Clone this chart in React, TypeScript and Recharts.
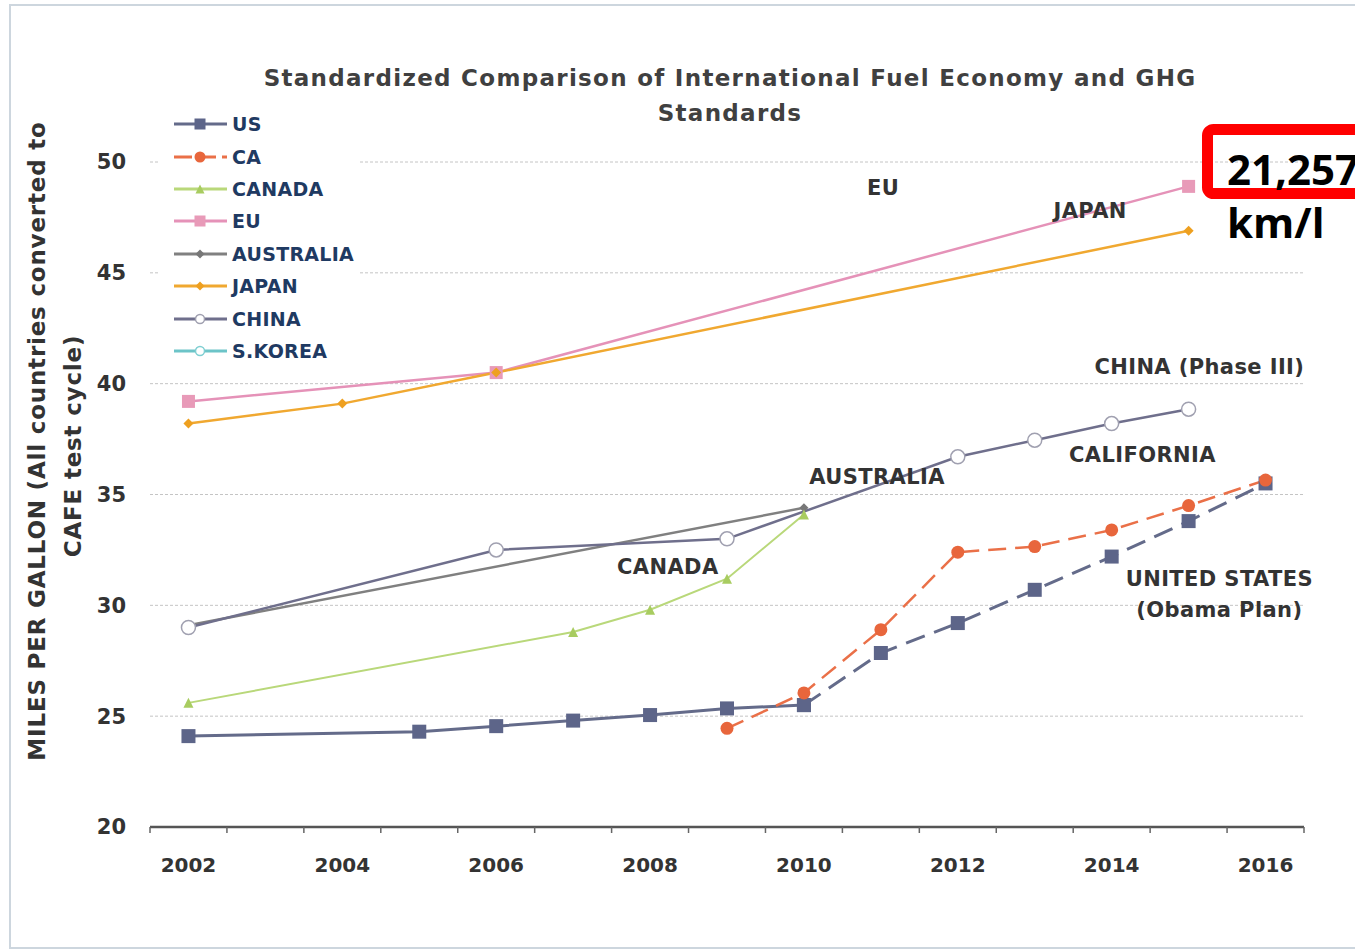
import React from 'react';
import { LineChart, Line, XAxis, YAxis, CartesianGrid, ReferenceDot, Legend } from 'recharts';

type Pt = { year: number; value: number };

const years = [2002, 2003, 2004, 2005, 2006, 2007, 2008, 2009, 2010, 2011, 2012, 2013, 2014, 2015, 2016];
const labelYears = [2002, 2004, 2006, 2008, 2010, 2012, 2014, 2016];
const yTicks = [20, 25, 30, 35, 40, 45, 50];

const usHistory: Pt[] = [
  { year: 2002, value: 24.1 }, { year: 2005, value: 24.3 }, { year: 2006, value: 24.55 },
  { year: 2007, value: 24.8 }, { year: 2008, value: 25.05 }, { year: 2009, value: 25.35 }, { year: 2010, value: 25.5 },
];
const usPlan: Pt[] = [
  { year: 2010, value: 25.5 }, { year: 2011, value: 27.85 }, { year: 2012, value: 29.2 }, { year: 2013, value: 30.7 },
  { year: 2014, value: 32.2 }, { year: 2015, value: 33.8 }, { year: 2016, value: 35.5 },
];
const california: Pt[] = [
  { year: 2009, value: 24.45 }, { year: 2010, value: 26.05 }, { year: 2011, value: 28.9 }, { year: 2012, value: 32.4 },
  { year: 2013, value: 32.65 }, { year: 2014, value: 33.4 }, { year: 2015, value: 34.5 }, { year: 2016, value: 35.65 },
];
const canada: Pt[] = [
  { year: 2002, value: 25.6 }, { year: 2007, value: 28.8 }, { year: 2008, value: 29.8 },
  { year: 2009, value: 31.2 }, { year: 2010, value: 34.1 },
];
const eu: Pt[] = [{ year: 2002, value: 39.2 }, { year: 2006, value: 40.5 }, { year: 2015, value: 48.9 }];
const australia: Pt[] = [{ year: 2002, value: 29.1 }, { year: 2010, value: 34.4 }];
const japan: Pt[] = [{ year: 2002, value: 38.2 }, { year: 2004, value: 39.1 }, { year: 2006, value: 40.5 }, { year: 2015, value: 46.9 }];
const china: Pt[] = [
  { year: 2002, value: 29.0 }, { year: 2006, value: 32.5 }, { year: 2009, value: 33.0 }, { year: 2012, value: 36.7 },
  { year: 2013, value: 37.45 }, { year: 2014, value: 38.2 }, { year: 2015, value: 38.85 },
];

const annotations = [
  { text: 'EU', year: 2011.03, value: 48.87 },
  { text: 'JAPAN', year: 2013.72, value: 47.83 },
  { text: 'CHINA (Phase III)', year: 2015.14, value: 40.75 },
  { text: 'CALIFORNIA', year: 2014.4, value: 36.8 },
  { text: 'AUSTRALIA', year: 2010.95, value: 35.83 },
  { text: 'CANADA', year: 2008.23, value: 31.77 },
  { text: 'UNITED STATES', year: 2015.4, value: 31.19 },
  { text: '(Obama Plan)', year: 2015.4, value: 29.79 },
];

const legendItems = [
  { name: 'US', color: '#646b8a', marker: 'square', markerColor: '#5d6589', dashed: false },
  { name: 'CA', color: '#ea7048', marker: 'circle', markerColor: '#e8663c', dashed: true },
  { name: 'CANADA', color: '#b9d87a', marker: 'triangle', markerColor: '#a8cc60', dashed: false },
  { name: 'EU', color: '#e592b8', marker: 'square', markerColor: '#e89ab8', dashed: false },
  { name: 'AUSTRALIA', color: '#808080', marker: 'diamond', markerColor: '#777777', dashed: false },
  { name: 'JAPAN', color: '#f0a830', marker: 'diamond', markerColor: '#eea020', dashed: false },
  { name: 'CHINA', color: '#6f6f8c', marker: 'hollow', markerColor: '#a0a0b0', dashed: false },
  { name: 'S.KOREA', color: '#6cc4c8', marker: 'hollow', markerColor: '#7fcfd2', dashed: false },
];

const FONT = '"DejaVu Sans", sans-serif';

const Marker = ({ kind, cx, cy, color, size }: any) => {
  if (cx == null || cy == null) return null;
  const s = size;
  switch (kind) {
    case 'square':
      return <rect x={cx - s / 2} y={cy - s / 2} width={s} height={s} fill={color} />;
    case 'circle':
      return <circle cx={cx} cy={cy} r={s / 2} fill={color} />;
    case 'hollow':
      return <circle cx={cx} cy={cy} r={s / 2} fill="#ffffff" stroke={color} strokeWidth={1.5} />;
    case 'triangle':
      return <polygon points={`${cx},${cy - s / 2} ${cx + s / 2},${cy + s / 2} ${cx - s / 2},${cy + s / 2}`} fill={color} />;
    case 'diamond':
      return <polygon points={`${cx},${cy - s / 2} ${cx + s / 2},${cy} ${cx},${cy + s / 2} ${cx - s / 2},${cy}`} fill={color} />;
    default:
      return null;
  }
};

const dotFn = (kind: string, color: string, size: number) => (props: any) => (
  <g key={`${kind}-${color}-${props.index}`}>
    <Marker kind={kind} cx={props.cx} cy={props.cy} color={color} size={size} />
  </g>
);

const XTick = (props: any) => {
  const { x, y, payload } = props;
  const v = payload.value as number;
  if (!Number.isInteger(v)) {
    return <line x1={x} x2={x} y1={y} y2={y + 6} stroke="#666" strokeWidth={1.5} />;
  }
  if (labelYears.includes(v)) {
    return (
      <text x={x} y={y + 45} textAnchor="middle" fontFamily={FONT} fontWeight="bold" fontSize={20} fill="#333">
        {v}
      </text>
    );
  }
  return <g />;
};

const LegendContent = () => (
  <div style={{ background: '#ffffff', width: 200, padding: '4px 0 6px 0' }}>
    {legendItems.map((it) => (
      <div key={it.name} style={{ display: 'flex', alignItems: 'center', height: 32.4 }}>
        <svg width={56} height={16} style={{ marginLeft: 13 }}>
          <line x1={1} x2={54} y1={8} y2={8} stroke={it.color} strokeWidth={3} strokeDasharray={it.dashed ? '18 6' : undefined} />
          <Marker kind={it.marker} cx={27} cy={8} color={it.markerColor} size={it.marker === 'square' || it.marker === 'circle' ? 11 : 9} />
        </svg>
        <span style={{ fontFamily: FONT, fontWeight: 'bold', fontSize: 19, letterSpacing: 0.3, color: '#1f3a62', marginLeft: 3 }}>{it.name}</span>
      </div>
    ))}
  </div>
);

const xTicks = [...years.map((y) => y - 0.5), 2016.5, ...years].sort((a, b) => a - b);

export default function App() {
  return (
    <div style={{ position: 'absolute', left: 0, top: 0, width: 1355, height: 952, overflow: 'hidden', background: '#fff' }}>
      <div style={{ position: 'absolute', left: 9, top: 4, width: 1400, height: 945, border: '2px solid #cdd6de', boxSizing: 'border-box' }} />
      <LineChart width={1355} height={952} margin={{ top: 162, right: 51, bottom: 65, left: 90 }}>
        <CartesianGrid vertical={false} stroke="#c4c4c4" strokeDasharray="3 2" />
        <XAxis
          dataKey="year"
          type="number"
          domain={[2001.5, 2016.5]}
          ticks={xTicks}
          interval={0}
          height={60}
          allowDuplicatedCategory={false}
          axisLine={{ stroke: '#555', strokeWidth: 2.5 }}
          tickLine={false}
          tickSize={0}
          tickMargin={0}
          tick={<XTick />}
        />
        <YAxis
          type="number"
          domain={[20, 50]}
          ticks={yTicks}
          interval={0}
          width={60}
          axisLine={false}
          tickLine={false}
          tickSize={0}
          tickMargin={24}
          tick={{ fontFamily: FONT, fontWeight: 'bold', fontSize: 21, fill: '#333' }}
        />
        <Legend
          layout="vertical"
          align="center"
          verticalAlign="middle"
          content={<LegendContent />}
          wrapperStyle={{ left: 160, top: 104, width: 205, height: 262, position: 'absolute' }}
        />
        <Line data={australia} dataKey="value" name="AUSTRALIA" stroke="#808080" strokeWidth={2.5} isAnimationActive={false} dot={dotFn('diamond', '#777777', 9)} />
        <Line data={china} dataKey="value" name="CHINA" stroke="#6f6f8c" strokeWidth={2.5} isAnimationActive={false} dot={dotFn('hollow', '#a0a0b0', 14)} />
        <Line data={canada} dataKey="value" name="CANADA" stroke="#b9d87a" strokeWidth={2} isAnimationActive={false} dot={dotFn('triangle', '#a8cc60', 10)} />
        <Line data={eu} dataKey="value" name="EU" stroke="#e592b8" strokeWidth={2.5} isAnimationActive={false} dot={dotFn('square', '#e89ab8', 13)} />
        <Line data={japan} dataKey="value" name="JAPAN" stroke="#f0a830" strokeWidth={2.5} isAnimationActive={false} dot={dotFn('diamond', '#eea020', 10)} />
        <Line data={usHistory} dataKey="value" name="US" stroke="#646b8a" strokeWidth={3} isAnimationActive={false} dot={dotFn('square', '#5d6589', 14)} />
        <Line data={usPlan} dataKey="value" name="US plan" stroke="#646b8a" strokeWidth={3} strokeDasharray="20 10" isAnimationActive={false} dot={dotFn('square', '#5d6589', 14)} />
        <Line data={california} dataKey="value" name="CA" stroke="#ea7048" strokeWidth={2.5} strokeDasharray="18 9" isAnimationActive={false} dot={dotFn('circle', '#e8663c', 13)} />
        {annotations.map((a) => (
          <ReferenceDot
            key={a.text}
            x={a.year}
            y={a.value}
            r={1}
            fill="none"
            stroke="none"
            label={{ value: a.text, position: 'center', fontFamily: FONT, fontWeight: 'bold', fontSize: 21, letterSpacing: 0.4, fill: '#333' }}
          />
        ))}
      </LineChart>
      <svg width={1355} height={952} style={{ position: 'absolute', left: 0, top: 0, pointerEvents: 'none' }}>
        <text x={730} y={86} textAnchor="middle" fontFamily={FONT} fontWeight="bold" fontSize={23} letterSpacing={1.3} fill="#404040">
          Standardized Comparison of International Fuel Economy and GHG
        </text>
        <text x={730} y={121} textAnchor="middle" fontFamily={FONT} fontWeight="bold" fontSize={23} letterSpacing={1.3} fill="#404040">
          Standards
        </text>
        <text transform="translate(45,441) rotate(-90)" textAnchor="middle" fontFamily={FONT} fontWeight="bold" fontSize={23} letterSpacing={0.8} fill="#333">
          MILES PER GALLON (All countries converted to
        </text>
        <text transform="translate(81,446) rotate(-90)" textAnchor="middle" fontFamily={FONT} fontWeight="bold" fontSize={23} letterSpacing={0.8} fill="#333">
          CAFE test cycle)
        </text>
        <rect x={1207.5} y={129.5} width={200} height={64} rx={6} fill="none" stroke="#ff0000" strokeWidth={11} />
        <text x={1227} y={185} fontFamily='"Open Sans", sans-serif' fontWeight="bold" fontSize={42} fill="#000">21,257</text>
        <text x={1227} y={238} fontFamily='"Open Sans", sans-serif' fontWeight="bold" fontSize={42} fill="#000">km/l</text>
      </svg>
    </div>
  );
}
